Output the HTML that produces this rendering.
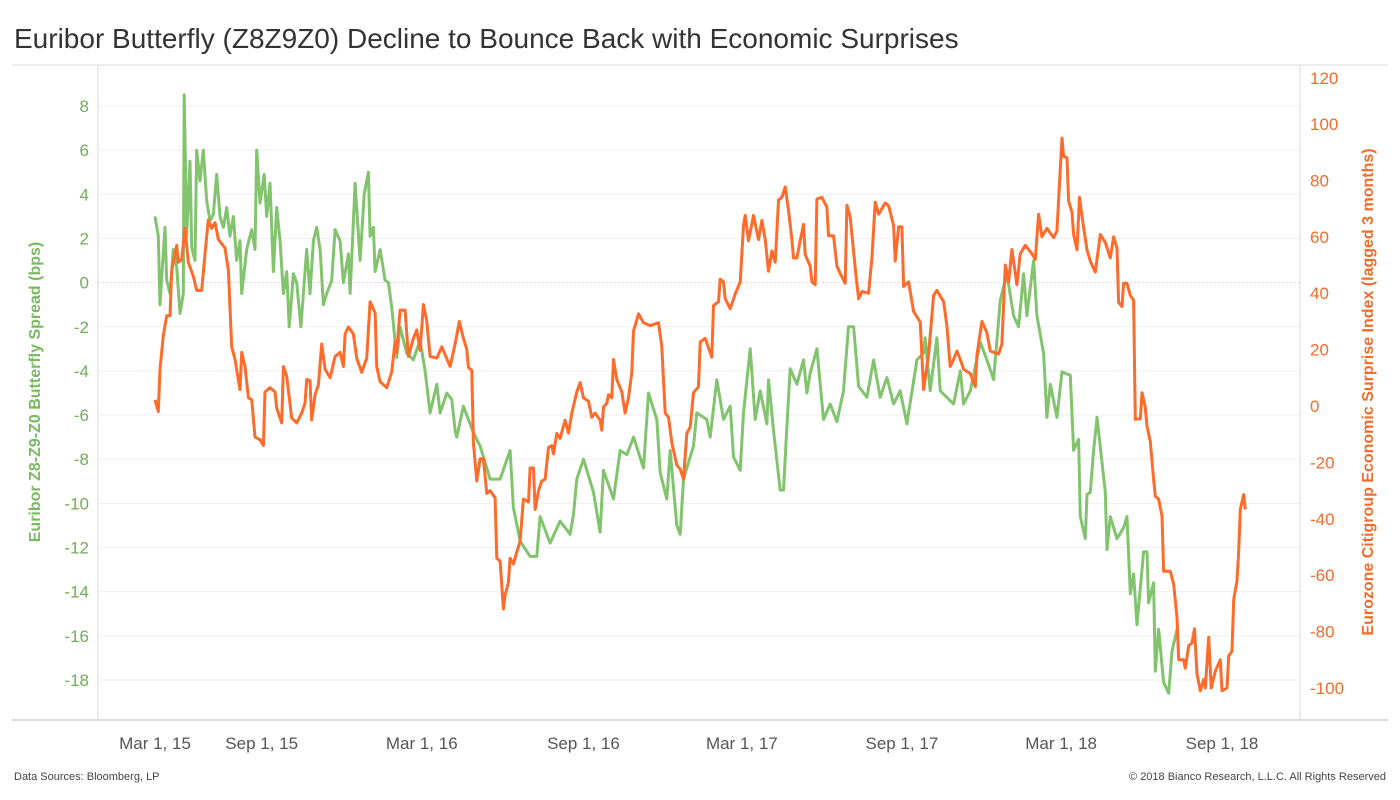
<!DOCTYPE html>
<html><head><meta charset="utf-8"><style>
body{margin:0;background:#fff;font-family:"Liberation Sans",sans-serif;}
#wrap{position:relative;width:1400px;height:800px;overflow:hidden;}
</style></head><body>
<div id="wrap">
<svg id="chart" width="1400" height="800" xmlns="http://www.w3.org/2000/svg">
<text x="14" y="48" font-size="28" fill="#333" font-family="Liberation Sans, sans-serif">Euribor Butterfly (Z8Z9Z0) Decline to Bounce Back with Economic Surprises</text>
<g id="grid"></g>
<line x1="12" y1="65" x2="1388" y2="65" stroke="#d9d9d9"/>
<line x1="12" y1="720" x2="1388" y2="720" stroke="#bbb"/>
<line x1="98" y1="65" x2="98" y2="720" stroke="#d9d9d9"/>
<line x1="1300" y1="65" x2="1300" y2="720" stroke="#d9d9d9"/>
<g id="ticks"></g>
<g id="series"></g>
<text transform="translate(40,392) rotate(-90)" text-anchor="middle" font-size="16" font-weight="bold" fill="#7bb862">Euribor Z8-Z9-Z0 Butterfly Spread (bps)</text>
<text transform="translate(1373,392) rotate(-90)" text-anchor="middle" font-size="16" font-weight="bold" fill="#f26b2a">Eurozone Citigroup Economic Surprise Index (lagged 3 months)</text>
<text x="14" y="780" font-size="11" fill="#444">Data Sources: Bloomberg, LP</text>
<text x="1386" y="780" font-size="11" fill="#444" text-anchor="end">© 2018 Bianco Research, L.L.C. All Rights Reserved</text>
</svg>
</div>
<script>
const leftTicks=[8,6,4,2,0,-2,-4,-6,-8,-10,-12,-14,-16,-18];
const rightTicks=[120,100,80,60,40,20,0,-20,-40,-60,-80,-100];
const xTickLabels=["Mar 1, 15","Sep 1, 15","Mar 1, 16","Sep 1, 16","Mar 1, 17","Sep 1, 17","Mar 1, 18","Sep 1, 18"];
// days since first observation
const xTickDays=[0,128,320,514,704,896,1087,1280];
const greenDays=[0,4,6,12,14,18,22,26,30,34,35,38,42,44,48,50,54,58,62,66,70,74,78,82,86,90,94,98,102,104,110,116,120,122,126,131,134,138,142,146,150,154,158,161,166,170,175,182,186,190,194,198,202,206,212,216,222,226,232,234,240,246,251,256,258,262,264,270,276,280,284,290,294,302,310,318,324,330,338,342,350,356,360,362,370,382,390,402,414,426,430,438,450,458,462,474,486,498,502,506,514,526,534,538,550,558,566,574,586,592,602,606,614,618,626,630,634,646,650,662,666,674,682,690,694,702,706,714,720,726,734,736,742,750,754,758,762,770,778,782,786,794,802,810,818,826,832,838,844,854,862,870,878,886,894,902,914,922,924,930,938,942,958,966,970,978,990,998,1006,1014,1022,1030,1036,1042,1046,1054,1058,1066,1070,1074,1082,1088,1098,1102,1108,1110,1116,1118,1122,1126,1130,1140,1142,1146,1154,1162,1166,1170,1174,1178,1186,1190,1192,1198,1200,1204,1210,1216,1220,1226];
const greenValues=[3.0,2.1,-1.0,2.5,0.1,-0.5,1.5,0.7,-1.4,-0.5,8.5,2.1,5.5,1.6,1.0,6.0,4.6,6.0,3.7,2.8,3.1,4.9,3.0,2.5,3.4,2.1,3.0,1.0,1.9,-0.5,1.5,2.4,1.5,6.0,3.6,4.9,3.0,4.5,0.5,3.4,1.9,-0.5,0.5,-2.0,0.4,0,-2.0,1.5,-0.5,1.9,2.5,1.5,-1.0,-0.5,0.1,2.4,1.9,0,1.3,-0.5,4.5,1.0,4.0,5.0,2.1,2.5,0.5,1.5,0.1,0,-1.1,-3.4,-2.0,-3.2,-3.5,-2.6,-4.0,-5.9,-4.6,-5.9,-5.0,-5.3,-6.7,-7.0,-5.6,-6.8,-7.4,-8.9,-8.9,-7.6,-10.2,-11.7,-12.4,-12.4,-10.6,-11.8,-10.8,-11.4,-10.5,-8.9,-8.0,-9.5,-11.3,-8.5,-9.8,-7.6,-7.8,-7.0,-8.4,-5.0,-6.2,-8.6,-9.8,-7.6,-11.0,-11.4,-8.9,-7.4,-5.9,-6.2,-7.0,-4.4,-6.2,-5.6,-7.9,-8.5,-5.9,-3.0,-6.2,-4.9,-6.4,-4.4,-6.7,-9.4,-9.4,-6.5,-3.9,-4.6,-3.5,-5.0,-4.1,-3.0,-6.2,-5.5,-6.3,-4.9,-2.0,-2.0,-4.7,-5.2,-3.5,-5.2,-4.3,-5.5,-4.9,-6.4,-3.5,-3.2,-2.5,-4.9,-2.5,-4.9,-5.5,-4.0,-5.5,-4.9,-2.7,-3.5,-4.4,-0.8,0.4,-1.5,-2.0,0.4,-1.5,1.0,-1.5,-3.2,-6.1,-4.6,-6.1,-4.05,-4.2,-7.6,-7.1,-10.6,-11.6,-9.6,-9.5,-7.6,-6.1,-9.5,-12.1,-10.6,-11.6,-11.1,-10.6,-14.1,-13.2,-15.5,-12.2,-12.2,-14.5,-13.6,-17.6,-15.7,-18.1,-18.6,-16.7,-15.7];
const orangeDays=[0,4,6,10,14,18,20,26,28,32,36,40,46,50,56,60,64,68,72,76,84,88,92,96,102,104,108,112,116,120,126,130,132,138,144,146,152,154,158,164,170,176,180,182,186,188,192,196,200,204,210,216,222,226,228,232,238,242,248,254,258,264,266,270,278,284,288,290,294,300,304,310,314,318,322,326,330,338,344,354,360,365,370,374,376,380,382,386,390,394,398,402,408,410,414,418,420,424,426,430,434,438,442,448,450,454,456,460,464,468,472,476,478,482,486,492,496,500,506,510,514,520,524,528,534,536,538,542,544,548,550,554,560,564,568,572,574,580,586,594,604,608,612,616,620,626,630,634,638,642,646,652,654,660,668,670,676,678,682,684,690,696,702,706,708,712,718,724,728,732,736,740,744,746,748,752,756,760,764,766,770,774,778,780,786,788,792,794,800,806,808,814,818,822,828,830,834,840,844,848,856,860,864,868,876,880,886,888,892,896,898,904,910,918,922,928,934,938,946,950,954,958,962,966,970,978,984,986,992,998,1002,1012,1016,1020,1024,1028,1034,1038,1044,1052,1056,1060,1064,1070,1078,1082,1088,1090,1094,1096,1100,1102,1106,1109,1114,1118,1122,1128,1134,1140,1146,1150,1154,1156,1160,1162,1166,1170,1174,1176,1182,1184,1188,1190,1194,1198,1200,1204,1208,1210,1218,1222,1226,1228,1234,1236,1240,1244,1247,1250,1254,1258,1260,1264,1267,1272,1278,1280,1286,1288,1292,1294,1298,1300,1302,1306,1308];
const orangeValues=[2.2,-2,13,25,32,32,48,57,51,52,63,51,46,41,41,54,66,63,65,59,56,48,21,16.5,5.8,19,14,2.9,2.2,-11,-12,-14,5,6.5,5,-0.7,-6,14,10.5,-4.3,-6,-2.5,1,9.4,9,-5,4,7.5,22,13,10,17.6,19,14,25.5,28,25.5,17,11.9,17,37,33,14,8.6,6.5,12,23,19,34,34,17.6,24,27,19.7,36,30,17.6,17,21,14,22,30,24,20,13.7,12.6,-13,-26.6,-18.7,-18.7,-31,-30,-32.6,-54,-55,-72,-67,-62.6,-54,-56,-51.8,-48,-33,-34,-22,-22,-36.7,-30,-26.6,-26,-14.7,-14,-17,-9.7,-11.5,-5,-9.6,-2.5,5,8.3,2.9,1.7,-4,-2.5,-5,-8.6,-0.4,1,4,2.9,16.5,9.4,5,-2.5,2.9,11.9,26.6,32.7,29.5,28.5,29.5,21,-2.5,-4,-13,-21,-22.4,-26,-9.7,-7.5,4.7,6.8,22.7,24,17.3,35.6,37,45,44,38,34.5,39.7,44,64,67.6,58.6,67.6,59,65.8,59,47.8,55,51,62,73,74,77.7,69.4,59,52.5,52.5,58.6,64.4,53.7,49.6,44,43,73.4,74,70.5,60.4,60.4,49.6,47,43.5,71.2,67,49,38,40.6,40,52.5,72.3,68,72,71,64,51.4,63.5,63.5,42.4,44,33.5,29.8,5.8,18.4,39.2,41,37,28.4,14,16.5,19.5,16.5,13,11.5,6.8,18,30,26,19.5,18.4,22,50,44,55.5,43,54,57,54,52,68,60,63,59.7,62,95,88.5,88,72.7,68.7,60.8,55.4,74,63.3,55.4,51.4,47.5,60.8,58,52.5,60,56,36.7,35.3,43.5,43.5,39.2,37.5,-4.7,-4.5,4.7,-0.5,-7.2,-12.6,-26,-32,-33,-39,-58.6,-58.6,-63.3,-75,-90,-90,-93,-85,-84,-79,-95,-101,-97,-100,-82,-100,-94,-90,-101,-100,-88.6,-87,-68.6,-62,-51.5,-36.7,-31.4,-36.7];

const NS="http://www.w3.org/2000/svg";
function xScale(d){return 155+d*(1222-155)/1280;}
function yLeft(v){return 282.6-v*(680-106)/26;}
function yRight(v){return 406-v*2.82;}
const grid=document.getElementById('grid'),ticks=document.getElementById('ticks'),series=document.getElementById('series');
leftTicks.forEach(v=>{
  const l=document.createElementNS(NS,'line');
  l.setAttribute('x1',98);l.setAttribute('x2',1300);l.setAttribute('y1',yLeft(v));l.setAttribute('y2',yLeft(v));
  if(v===0){l.setAttribute('stroke','#c8c8c8');l.setAttribute('stroke-dasharray','1.5,2.5');}else{l.setAttribute('stroke','#efefef');}
  
  
  grid.appendChild(l);
  const t=document.createElementNS(NS,'text');
  t.setAttribute('x',89);t.setAttribute('y',yLeft(v)+6);t.setAttribute('text-anchor','end');
  t.setAttribute('font-size','17');t.setAttribute('fill','#6fae58');t.textContent=v;
  
  
  ticks.appendChild(t);
});
rightTicks.forEach(v=>{
  const t=document.createElementNS(NS,'text');
  t.setAttribute('x',1310);t.setAttribute('y',Math.max(yRight(v),78)+6);
  t.setAttribute('font-size','17');t.setAttribute('fill','#f26b2a');t.textContent=v;
  
  
  ticks.appendChild(t);
});
xTickLabels.forEach((s,i)=>{
  const t=document.createElementNS(NS,'text');
  t.setAttribute('x',xScale(xTickDays[i]));t.setAttribute('y',749);t.setAttribute('text-anchor','middle');
  t.setAttribute('font-size','17');t.setAttribute('fill','#555');t.textContent=s;
  
  
  ticks.appendChild(t);
});
function drawLine(days,vals,yf,color,name){
  const p=document.createElementNS(NS,'path');
  p.setAttribute('d',days.map((d,i)=>(i?'L':'M')+xScale(d).toFixed(1)+','+yf(vals[i]).toFixed(1)).join(''));
  p.setAttribute('fill','none');p.setAttribute('stroke',color);p.setAttribute('stroke-width','3');p.setAttribute('stroke-linejoin','round');
  
  
  series.appendChild(p);
}
drawLine(greenDays,greenValues,yLeft,'#82c46e','butterfly-spread-line');
drawLine(orangeDays,orangeValues,yRight,'#ff6b2b','surprise-index-line');
</script>
</body></html>
